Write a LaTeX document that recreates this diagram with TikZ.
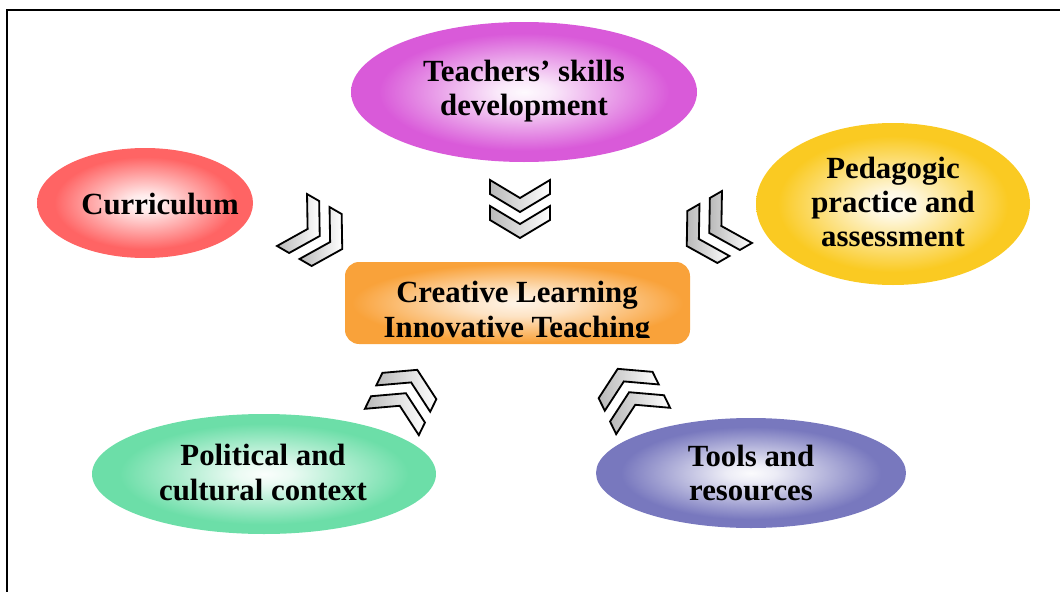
\documentclass[tikz,border=0pt]{standalone}
\usepackage{fontspec}
\setmainfont{Liberation Serif}
\usetikzlibrary{shapes.geometric}
\definecolor{teachc}{HTML}{D95AD9}
\definecolor{currc}{HTML}{FF6464}
\definecolor{pedac}{HTML}{FACA22}
\definecolor{polic}{HTML}{6CDEA8}
\definecolor{toolc}{HTML}{7878BE}
\definecolor{boxc}{HTML}{F9A23A}
\pgfdeclareradialshading[glowc]{glow}{\pgfpointorigin}{color(0bp)=(glowc!3!white); color(4bp)=(glowc!14!white); color(21bp)=(glowc); color(50bp)=(glowc)}
\pgfdeclareradialshading[boxc]{boxglow}{\pgfpointorigin}{color(0bp)=(boxc!12!white); color(8bp)=(boxc!30!white); color(24bp)=(boxc); color(50bp)=(boxc)}
\tikzset{
    blob/.style={ellipse,inner sep=0pt,/utils/exec={\colorlet{glowc}{#1}},shading=glow},
    blobsize/.style 2 args={minimum width=#1*0.025cm,minimum height=#2*0.025cm},
    lbl/.style={font=\fontsize{21.9}{24.5}\selectfont\bfseries,align=center,inner sep=0pt},
    chevfill/.style={draw=black,line width=1.3pt,line join=miter,left color=gray!55,right color=white},
    chevpair/.pic={
      \draw[chevfill] (-30,30) -- (-16,30) -- (2,0) -- (-16,-30) -- (-30,-30) -- (-12,0) -- cycle;
      \draw[chevfill] (-4,30) -- (10,30) -- (28,0) -- (10,-30) -- (-4,-30) -- (14,0) -- cycle;
    },
  }
\begin{document}
\begin{tikzpicture}[x=0.025cm,y=-0.025cm]
			          \useasboundingbox (0,0) rectangle (1060,592);
				   %CADRE
				  \draw[line width=1.6pt] (7,592) -- (7,10) -- (1060,10);
				   %ELLIPSES
				  \node[blob=teachc,blobsize={346}{140}] (teach) at (524,92) {};
				  \node[blob=currc,blobsize={216}{110}] (curr) at (145,203) {};
				  \node[blob=pedac,blobsize={274}{162}] (peda) at (893,204) {};
				  \node[blob=polic,blobsize={344}{120}] (poli) at (264,474) {};
				  \node[blob=toolc,blobsize={310}{110}] (tool) at (751,473) {};
				  \node[lbl] (teach-t) at (524,91) {Teachers’ skills\\development};
				  \node[lbl] (curr-t) at (160,204) {Curriculum};
				  \node[lbl] (peda-t) at (893,202) {Pedagogic\\practice and\\assessment};
				  \node[lbl] (poli-t) at (263,472.5) {Political and\\cultural context};
				  \node[lbl] (tool-t) at (751,473) {Tools and\\resources};
				   %CENTRE
				  \shade[shading=boxglow,rounded corners=10] (345,262) rectangle (690,344);
				  \coordinate (box) at (517,303);
				  \begin{scope}
				    \clip (345,262) rectangle (690,337);
				    \node[lbl] (box-t) at (517,312.5) {Creative Learning\\Innovative Teaching};
				  \end{scope}
				   %CHEVRONS
				  \pic[rotate=-90] at (520,210) {chevpair};
				  \pic[rotate=-30] at (318,235) {chevpair};
				  \pic[rotate=210] at (711,232) {chevpair};
				  \pic[rotate=64] at (405,395) {chevpair};
				  \pic[rotate=116] at (630,394) {chevpair};
\end{tikzpicture}
\end{document}
